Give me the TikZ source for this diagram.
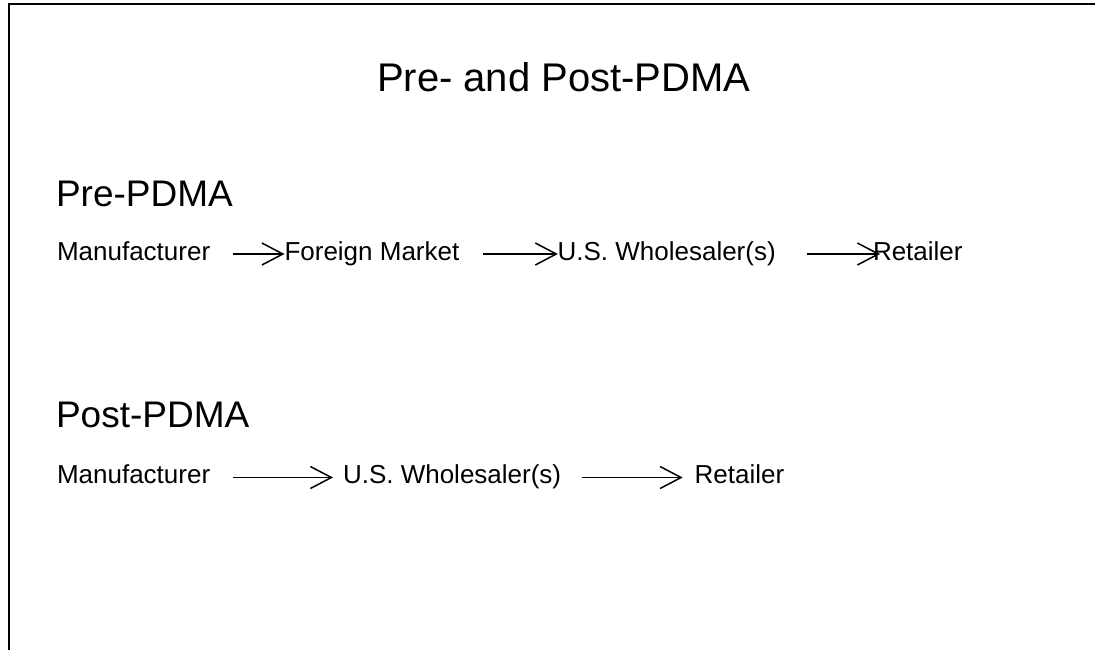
\documentclass[tikz,border=0pt]{standalone}
\usepackage{fontspec}
\setmainfont{Liberation Sans}
\usetikzlibrary{arrows.meta}
\tikzset{
  lbl/.style={inner sep=0pt, outer sep=0pt, anchor=base west, font=\fontsize{26}{31}\selectfont},
  head/.style={inner sep=0pt, outer sep=0pt, anchor=base west, font=\fontsize{37}{44}\selectfont},
  ttl/.style={inner sep=0pt, outer sep=0pt, anchor=base west, font=\fontsize{40}{48}\selectfont},
  arr/.style={line width=1.5pt, -{Straight Barb[length=21pt,width=22pt,line width=1.5pt]}},
  frame/.style={line width=2pt}
}
\begin{document}
\begin{tikzpicture}[x=1pt,y=-1pt]
\useasboundingbox (0,0) rectangle (1095,650);
\draw[frame] (9,651) -- (9,4) -- (1095,4);
\node[ttl] (title) at (377,92) {Pre- and Post-PDMA};
\node[head] (pre) at (56,206) {Pre-PDMA};
\node[head] (post) at (56,427) {Post-PDMA};
% pre row
\node[lbl] (m1) at (57,260) {Manufacturer};
\node[lbl] (f1) at (284.5,260) {Foreign Market};
\node[lbl] (w1) at (557.6,260) {U.S. Wholesaler(s)};
\node[lbl] (r1) at (873,260) {Retailer};
\draw[arr] ([shift={(22.8,-6)}]m1.base east) -- ([shift={(0,-6)}]f1.base west);
\draw[arr] ([shift={(23.6,-6)}]f1.base east) -- ([shift={(0.3,-6)}]w1.base west);
\draw[arr] ([shift={(31,-6)}]w1.base east) -- ([shift={(7,-6)}]r1.base west);
% post row
\node[lbl] (m2) at (57,483) {Manufacturer};
\node[lbl] (w2) at (343,483) {U.S. Wholesaler(s)};
\node[lbl] (r2) at (694.7,483) {Retailer};
\draw[arr] ([shift={(22.8,-5.5)}]m2.base east) -- ([shift={(-10,-5.5)}]w2.base west);
\draw[arr] ([shift={(20.6,-5.5)}]w2.base east) -- ([shift={(-12,-5.5)}]r2.base west);
\end{tikzpicture}
\end{document}
